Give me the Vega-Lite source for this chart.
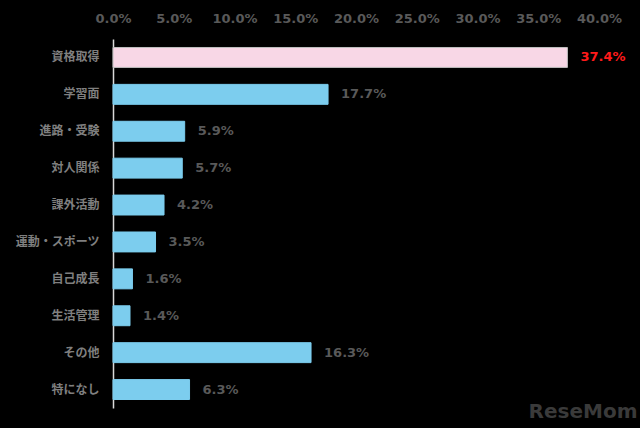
{
  "$schema": "https://vega.github.io/schema/vega-lite/v6.json",
  "autosize": "none",
  "width": 486,
  "height": 369,
  "padding": {"left": 113, "top": 39, "right": 41, "bottom": 20},
  "background": "#000000",
  "config": {"view": {"stroke": null}, "font": "Noto Sans CJK JP"},
  "title": {"text": "ReseMom", "orient": "bottom", "anchor": "end", "fontSize": 20, "fontWeight": "bold", "color": "#3a3a3a", "font": "DejaVu Sans", "offset": -6, "dx": 12},
  "data": {"values": [
    {"category": "資格取得", "value": 0.374, "highlight": "yes"},
    {"category": "学習面", "value": 0.177, "highlight": "no"},
    {"category": "進路・受験", "value": 0.059, "highlight": "no"},
    {"category": "対人関係", "value": 0.057, "highlight": "no"},
    {"category": "課外活動", "value": 0.042, "highlight": "no"},
    {"category": "運動・スポーツ", "value": 0.035, "highlight": "no"},
    {"category": "自己成長", "value": 0.016, "highlight": "no"},
    {"category": "生活管理", "value": 0.014, "highlight": "no"},
    {"category": "その他", "value": 0.163, "highlight": "no"},
    {"category": "特になし", "value": 0.063, "highlight": "no"}
  ]},
  "encoding": {
    "y": {"field": "category", "type": "nominal", "sort": null,
      "scale": {"paddingInner": 0.46, "paddingOuter": 0.23},
      "axis": {"title": null, "ticks": false, "domainColor": "#d9d9d9", "domainWidth": 1.5, "labelColor": "#7f7f7f", "labelFontSize": 12, "labelFontWeight": "bold", "labelPadding": 14, "labelFont": "Noto Sans CJK JP"}},
    "x": {"field": "value", "type": "quantitative", "scale": {"domain": [0, 0.4], "nice": false},
      "axis": {"orient": "top", "title": null, "grid": false, "ticks": false, "domain": false, "values": [0, 0.05, 0.1, 0.15, 0.2, 0.25, 0.3, 0.35, 0.4], "format": ".1%", "labelColor": "#595959", "labelFontSize": 13, "labelFontWeight": "bold", "labelPadding": 14, "labelFont": "DejaVu Sans", "labelFlush": false}}
  },
  "layer": [
    {"mark": {"type": "bar", "strokeWidth": 1},
      "encoding": {
        "color": {"field": "highlight", "type": "nominal", "scale": {"domain": ["yes", "no"], "range": ["#f8d7e6", "#7ccdee"]}, "legend": null},
        "stroke": {"field": "highlight", "type": "nominal", "scale": {"domain": ["yes", "no"], "range": ["#bfbfbf", "#7ccdee"]}, "legend": null}
      }},
    {"mark": {"type": "text", "align": "left", "dx": 13, "fontSize": 13, "fontWeight": "bold", "font": "DejaVu Sans"},
      "encoding": {
        "text": {"field": "value", "type": "quantitative", "format": ".1%"},
        "color": {"field": "highlight", "type": "nominal", "scale": {"domain": ["yes", "no"], "range": ["#ff1a1a", "#595959"]}, "legend": null}
      }}
  ],
  "resolve": {"scale": {"color": "independent"}}
}
